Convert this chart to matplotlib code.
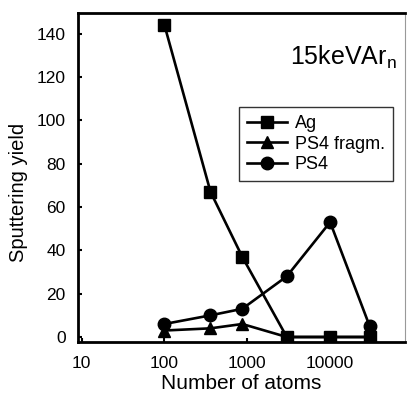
import matplotlib
matplotlib.use("Agg")
import matplotlib.pyplot as plt

plt.rcParams['font.family'] = ['Liberation Sans', 'DejaVu Sans']

# data
atoms = [100, 360, 870, 3000, 10000, 30000]
ag = [144, 67, 37, 0, 0, 0]
ps4_fragm = [3, 4, 6, 0, 0, 0]
ps4 = [6, 10, 13, 28, 53, 5]

fig = plt.figure(figsize=(4.07, 3.94), dpi=100)
ax = fig.add_axes([0.192, 0.132, 0.803, 0.835])

ax.plot(atoms, ps4, color='black', lw=1.9, marker='o', ms=9, label='PS4', zorder=3)
ax.plot(atoms, ps4_fragm, color='black', lw=1.9, marker='^', ms=8.5, label='PS4 fragm.', zorder=4)
ax.plot(atoms, ag, color='black', lw=1.9, marker='s', ms=8, label='Ag', zorder=5)

ax.set_xscale('log')
ax.set_xlim(9.1, 8e4)
ax.set_ylim(-2.3, 149.5)
ax.set_xticks([10, 100, 1000, 10000])
ax.set_xticklabels(['10', '100', '1000', '10000'])
ax.minorticks_off()
ax.set_yticks(range(0, 141, 20))

ax.tick_params(direction='in', length=3, width=1.5, labelsize=12.5)
ax.tick_params(axis='x', pad=10)
ax.tick_params(axis='y', pad=9)
for s in ['left', 'bottom', 'top']:
    ax.spines[s].set_linewidth(2)
ax.spines['right'].set_linewidth(0.8)
ax.spines['right'].set_color('#999999')

ax.set_xlabel('Number of atoms', fontsize=15, labelpad=2)
ax.set_ylabel('Sputtering yield', fontsize=14.5)
ax.yaxis.set_label_coords(-0.153, 0.456)

ax.text(0.975, 0.866, '15keVAr$_\\mathregular{n}$', transform=ax.transAxes,
        ha='right', va='center', fontsize=18)

h, l = ax.get_legend_handles_labels()
leg = ax.legend(h[::-1], l[::-1], loc='upper left', bbox_to_anchor=(0.492, 0.715),
                fontsize=13, frameon=True, fancybox=False, edgecolor='black',
                handlelength=2.2, handletextpad=0.45, labelspacing=0.2,
                borderpad=0.45, borderaxespad=0)
leg.get_frame().set_linewidth(1)

fig.savefig('out.png', dpi=100)
